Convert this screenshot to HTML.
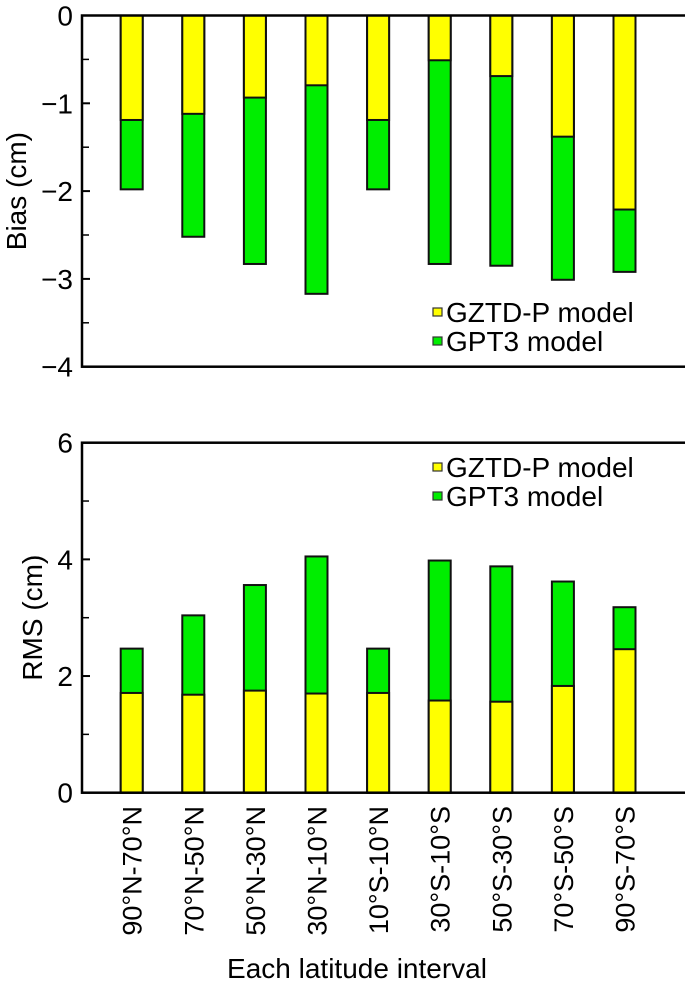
<!DOCTYPE html>
<html><head><meta charset="utf-8"><style>
html,body{margin:0;padding:0;background:#fff;}
svg{display:block;font-family:"Liberation Sans",Arial,sans-serif;}
</style></head><body>
<svg id="chart" width="685" height="987" viewBox="0 0 685 987" xmlns="http://www.w3.org/2000/svg"></svg>
<script>
const categories = ["90°N-70°N","70°N-50°N","50°N-30°N","30°N-10°N","10°S-10°N","30°S-10°S","50°S-30°S","70°S-50°S","90°S-70°S"];
const biasGZTD = [-1.19,-1.12,-0.935,-0.795,-1.19,-0.51,-0.69,-1.38,-2.21];
const biasGPT3 = [-1.98,-2.52,-2.83,-3.17,-1.98,-2.83,-2.85,-3.01,-2.92];
const rmsGZTD = [1.71,1.68,1.75,1.70,1.71,1.58,1.56,1.83,2.46];
const rmsGPT3 = [2.47,3.04,3.56,4.05,2.47,3.98,3.88,3.62,3.18];
const biasTicks = [0,-1,-2,-3,-4];
const rmsTicks = [0,2,4,6];

const NS="http://www.w3.org/2000/svg";
const svg=document.getElementById('chart');
function mk(tag,attrs,parent){const e=document.createElementNS(NS,tag);for(const k in attrs)e.setAttribute(k,attrs[k]);(parent||svg).appendChild(e);return e;}
const X0=82, XR=684, barW=22;
function xC(i){return 131.7+i*61.6;}
const pTop={y0:15.5,y1:366.7,min:-4,max:0};
const pBot={y0:442.7,y1:792.7,min:0,max:6};
function yT(v){return pTop.y0+(pTop.max-v)/(pTop.max-pTop.min)*(pTop.y1-pTop.y0);}
function yB(v){return pBot.y0+(pBot.max-v)/(pBot.max-pBot.min)*(pBot.y1-pBot.y0);}
const YEL="#ffff00", GRN="#00ee00";

function panel(name,yf,ticks,minor,p,backVals,frontVals,base,legY,title,titleX){
  const g=mk('g',{});
  
  
  for(let i=0;i<categories.length;i++){
    const yb=yf(base), yg=yf(backVals[i]), yy=yf(frontVals[i]);
    const r1=mk('rect',{x:xC(i)-barW/2,y:Math.min(yb,yg),width:barW,height:Math.abs(yg-yb),fill:GRN,stroke:'#111','stroke-width':2},g);
    
    
    const r2=mk('rect',{x:xC(i)-barW/2,y:Math.min(yb,yy),width:barW,height:Math.abs(yy-yb),fill:YEL,stroke:'#111','stroke-width':2},g);
    
    
  }
  const fr=mk('rect',{x:X0,y:p.y0,width:XR-X0+5,height:p.y1-p.y0,fill:'none',stroke:'#000','stroke-width':2.5},g);
  
  
  ticks.forEach(t=>{
    const y=yf(t);
    mk('line',{x1:X0,x2:X0+8,y1:y,y2:y,stroke:'#000','stroke-width':2},g);
    const tx=mk('text',{x:73,y:y+10,'text-anchor':'end','font-size':28},g);
    tx.textContent=(t<0?'\u2212'+(-t):String(t));
    
    
  });
  minor.forEach(t=>{const y=yf(t);mk('line',{x1:X0,x2:X0+7,y1:y,y2:y,stroke:'#000','stroke-width':1.5},g);});
  [[YEL,'GZTD-P model',legY],[GRN,'GPT3 model',legY+29]].forEach(([c,l,y])=>{
    const sw=mk('rect',{x:433,y:y-13,width:9,height:8,fill:c,stroke:'#333','stroke-width':1.2},g);
    
    
    const t=mk('text',{x:446,y:y+1,'font-size':28},g);
    t.textContent=l;
    
    
  });
  const yt=mk('text',{transform:`translate(${titleX},${(p.y0+p.y1)/2}) rotate(-90)`,'text-anchor':'middle','font-size':28},g);
  yt.textContent=title;
  
  
}
panel('bias-panel',yT,biasTicks,[-0.5,-1.5,-2.5,-3.5],pTop,biasGPT3,biasGZTD,0,321,'Bias (cm)',26);
panel('rms-panel',yB,rmsTicks,[1,3,5],pBot,rmsGPT3,rmsGZTD,0,476,'RMS (cm)',42);

categories.forEach((c,i)=>{
  const t=mk('text',{transform:`translate(${xC(i)+10},806) rotate(-90)`,'text-anchor':'end','font-size':27});
  t.textContent=c;
  
  
});
const xt=mk('text',{x:357,y:978,'text-anchor':'middle','font-size':28});
xt.textContent='Each latitude interval';


</script>
</body></html>
